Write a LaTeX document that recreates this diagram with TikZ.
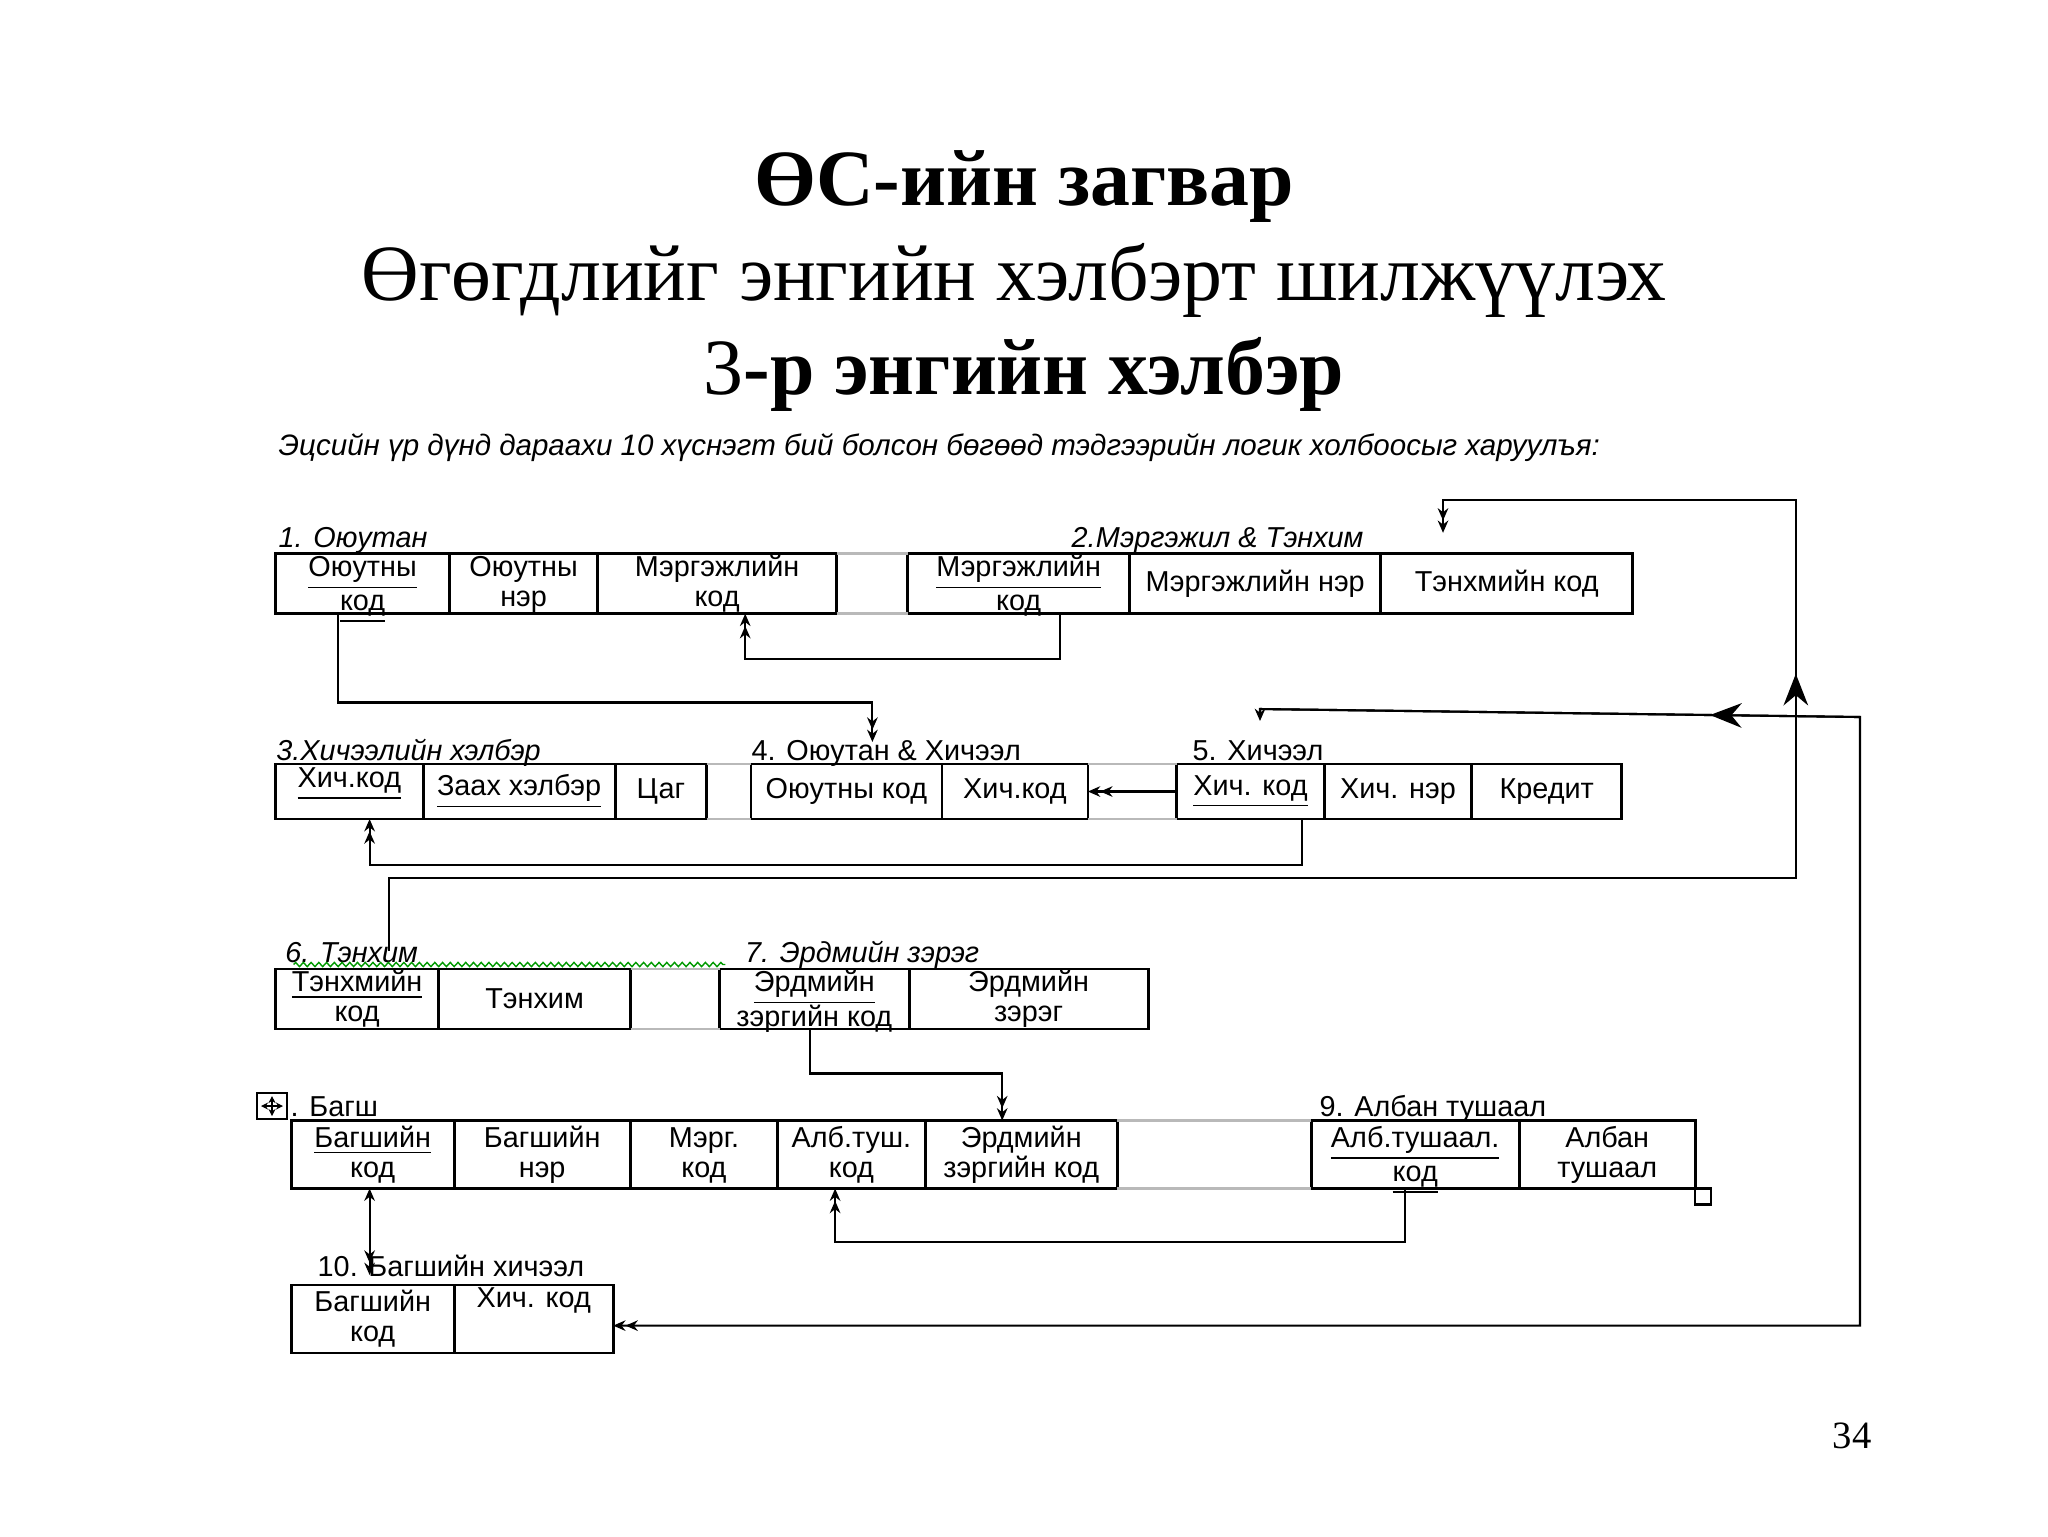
\documentclass[tikz,border=0pt]{standalone}
\usepackage{fontspec}
\setmainfont{Liberation Serif}
\newfontfamily\cellfont{Liberation Sans}
\usepackage{tikz}
\usetikzlibrary{arrows.meta,calc,decorations.markings,decorations.pathmorphing}

\newcommand{\twolines}[2]{\begin{tabular}[t]{@{}c@{}}#1\\#2\end{tabular}}

\begin{document}
\begin{tikzpicture}[
		x=0.1mm,
		y=-0.1mm,
		>={Stealth[length=3.5pt,width=3pt]},
		cell/.style={
			draw,
			line width=0.8pt,
			anchor=north west,
			outer sep=0pt,
			inner sep=0pt,
			font=\cellfont\fontsize{8.2}{8.6}\selectfont,
			minimum height=#1
		},
		cell/.default=6mm,
		twoline/.style={text height=4pt, text depth=8.2pt},
		tlabel/.style={anchor=base west, inner sep=0pt, font=\cellfont\itshape\fontsize{8.2}{9.4}\selectfont},
		tlabelup/.style={tlabel, font=\cellfont\fontsize{8.2}{9.4}\selectfont},
		link/.style={line width=0.6pt},
		gapline/.style={gray!55, line width=0.8pt},
		midtip/.style={
			postaction={decorate},
			decoration={
				markings,
				mark=at position #1 with {\arrow{Stealth[length=9pt,width=7pt]}}
			}
		}
	]
	
	\useasboundingbox (0,0) rectangle (2048,1536);
	
	% Гарчиг
	\node[anchor=base, font=\bfseries\fontsize{22.7}{26}\selectfont] (title) at (1024,205) {ӨС-ийн загвар};
	\node[anchor=base, font=\fontsize{22.7}{26}\selectfont] (subtitle) at (1014,300) {Өгөгдлийг энгийн хэлбэрт шилжүүлэх};
	\node[anchor=base, font=\fontsize{22.7}{26}\selectfont] (form) at (1024,394) {3\textbf{-р энгийн хэлбэр}};
	
	\node[tlabel, font=\cellfont\itshape\fontsize{8.4}{10}\selectfont] (intro) at (278,455)
	{Эцсийн үр дүнд дараахи 10 хүснэгт бий болсон бөгөөд тэдгээрийн логик холбоосыг харуулъя:};
	
	% 1. Оюутан
	\node[tlabel] (l1) at (278,547) {1. Оюутан};
	\node[cell, twoline, minimum width=17.4mm] (t1a) at (275.6,553.7) {\twolines{\underline{Оюутны}}{\underline{код}}};
	\node[cell, twoline, minimum width=14.8mm] (t1b) at (t1a.north east) {\twolines{Оюутны}{нэр}};
	\node[cell, twoline, minimum width=23.9mm] (t1c) at (t1b.north east) {\twolines{Мэргэжлийн}{код}};
	
	% 2. Мэргэжил & Тэнхим
	\node[tlabel] (l2) at (1071,547) {2.Мэргэжил \& Тэнхим};
	\node[cell, twoline, minimum width=22.2mm] (t2a) at (907.7,553.7) {\twolines{\underline{Мэргэжлийн}}{код}};
	\node[cell, minimum width=25.1mm] (t2b) at (t2a.north east) {Мэргэжлийн нэр};
	\node[cell, minimum width=25.2mm] (t2c) at (t2b.north east) {Тэнхмийн код};
	
	% 3. Хичээлийн хэлбэр
	\node[tlabel] (l3) at (275.6,760) {3.Хичээлийн хэлбэр};
	\node[cell=5.5mm, text height=2pt, text depth=4.3pt, minimum width=14.75mm] (t3a) at (275.6,764) {\underline{Хич.код}};
	\node[cell=5.5mm, minimum width=19.2mm] (t3b) at (t3a.north east) {\underline{Заах хэлбэр}};
	\node[cell=5.5mm, minimum width=9.15mm] (t3c) at (t3b.north east) {Цаг};
	
	% 4. Оюутан & Хичээл
	\node[tlabelup] (l4) at (751,760) {4. Оюутан \& Хичээл};
	\node[cell=5.5mm, minimum width=19.1mm] (t4a) at (750.9,764) {Оюутны код};
	\node[cell=5.5mm, minimum width=14.6mm] (t4b) at (t4a.north east) {Хич.код};
	
	% 5. Хичээл
	\node[tlabelup] (l5) at (1192,760) {5. Хичээл};
	\node[cell=5.5mm, minimum width=14.75mm] (t5a) at (1176.7,764) {\underline{Хич. код}};
	\node[cell=5.5mm, minimum width=14.75mm] (t5b) at (t5a.north east) {Хич. нэр};
	\node[cell=5.5mm, minimum width=15mm] (t5c) at (t5b.north east) {Кредит};
	
	% 6. Тэнхим
	\node[tlabel] (l6) at (284.7,962.5) {6. Тэнхим};
	\node[cell, twoline, minimum width=16.3mm] (t6a) at (275.6,969) {\twolines{\underline{Тэнхмийн}}{код}};
	\node[cell, minimum width=19.2mm] (t6b) at (t6a.north east) {Тэнхим};
	
	% 7. Эрдмийн зэрэг
	\node[tlabel] (l7) at (744.4,962.5) {7. Эрдмийн зэрэг};
	\node[cell, twoline, minimum width=18.95mm] (t7a) at (719.6,969) {\twolines{\underline{Эрдмийн}}{зэргийн код}};
	\node[cell, twoline, minimum width=23.9mm] (t7b) at (t7a.north east) {\twolines{Эрдмийн}{зэрэг}};
	
	% 8. Багш
	\node[tlabelup] (l8) at (290,1116.6) {. Багш};
	\node[cell=6.8mm, twoline, minimum width=16.3mm] (t8a) at (291.2,1120.5) {\twolines{\underline{Багшийн}}{\underline{код}}};
	\node[cell=6.8mm, twoline, minimum width=17.6mm] (t8b) at (t8a.north east) {\twolines{Багшийн}{нэр}};
	\node[cell=6.8mm, twoline, minimum width=14.75mm] (t8c) at (t8b.north east) {\twolines{Мэрг.}{код}};
	\node[cell=6.8mm, twoline, minimum width=14.75mm] (t8d) at (t8c.north east) {\twolines{Алб.туш.}{код}};
	\node[cell=6.8mm, twoline, minimum width=19.2mm] (t8e) at (t8d.north east) {\twolines{Эрдмийн}{зэргийн код}};
	
	% зөөх бариул
	\draw[line width=0.5pt] (257,1093) rectangle (287,1119);
	\draw[line width=0.5pt, <->, >={Stealth[length=2pt,width=2pt]}] (261,1106) -- (283,1106);
	\draw[line width=0.5pt, <->, >={Stealth[length=2pt,width=2pt]}] (272,1096) -- (272,1116);
	
	% 9. Албан тушаал
	\node[tlabelup] (l9) at (1319,1116.6) {9. Албан тушаал};
	\node[cell=6.8mm, twoline, minimum width=20.8mm] (t9a) at (1311.2,1120.5) {\twolines{\underline{Алб.тушаал.}}{\underline{код}}};
	\node[cell=6.8mm, twoline, minimum width=17.6mm] (t9b) at (t9a.north east) {\twolines{Албан}{тушаал}};
	\draw[line width=0.6pt] (t9b.south east) rectangle ++(16,16);
	
	% 10. Багшийн хичээл
	\node[tlabelup] (l10) at (317,1276) {10. Багшийн хичээл};
	\node[cell=6.8mm, twoline, minimum width=16.3mm] (t10a) at (291.2,1285) {\twolines{Багшийн}{код}};
	\node[cell=6.8mm, text height=1pt, text depth=7.8pt, minimum width=15.9mm] (t10b) at (t10a.north east) {Хич. код};
	
	% хүснэгт хоорондын саарал шугам
	\draw[gapline] (t1c.north east) -- (t2a.north west) (t1c.south east) -- (t2a.south west);
	\draw[gapline] (t3c.north east) -- (t4a.north west) (t3c.south east) -- (t4a.south west);
	\draw[gapline] (t4b.north east) -- (t5a.north west) (t4b.south east) -- (t5a.south west);
	\draw[gapline] (t6b.north east) -- (t7a.north west) (t6b.south east) -- (t7a.south west);
	\draw[gapline] (t8e.north east) -- (t9a.north west) (t8e.south east) -- (t9a.south west);
	
	\draw[green!60!black, line width=0.4pt, decorate, decoration={zigzag, amplitude=0.6pt, segment length=2.2pt}]
	($(l6.base west)+(9,2)$) -- ($(l7.base west)+(-19,2)$);
	
	% холбоосууд
	\coordinate (aA) at (872.4,742);
	\draw[link,->>] ($(t1a.south west)+(62.4,0)$) -- ++(0,88.8) -| (aA);
	
	\draw[link,->>] ($(t2a.south west)+(152.3,0)$) -- ++(0,45.7) -| ($(t1c.south west)+(147.6,0)$);
	
	\coordinate (cR) at (1795.8,877.6);
	\coordinate (cTop) at (1795.8,500.2);
	\coordinate (cEnd) at (1443,532.8);
	\draw[link,->>] ($(t6a.north west)+(113.6,-18)$) |- (cR) -- (cTop) -| (cEnd);
	\draw[link,midtip=0.54] (cR) -- (cTop);
	
	\coordinate (dBR) at (1860,1325.6);
	\coordinate (dTR) at (1860,717);
	\coordinate (dTL) at (1260,709);
	\coordinate (dTip) at (1260,721);
	\draw[link,<<->] ($(t10b.east)+(0,6.6)$) -- (dBR) -- (dTR) -- (dTL) -- (dTip);
	\draw[link,midtip=0.25] (dTR) -- (dTL);
	
	\draw[link,->>] ($(t5a.south west)+(125.3,0)$) -- ++(0,45.7) -| ($(t3a.south west)+(94,0)$);
	\draw[link,->>] (t5a.west) -- (t4b.east);
	
	\draw[link,->>] ($(t7a.south west)+(90.1,0)$) -- ++(0,44.5) -| ($(t8e.north west)+(77,0)$);
	\draw[link,->>] ($(t9a.south west)+(94.1,0)$) -- ++(0,53.5) -| ($(t8d.south west)+(57.4,0)$);
	\draw[link,<->>] ($(t8a.south west)+(78.4,0)$) -- ($(t10a.north west)+(78.4,-10)$);
	
	% хуудасны дугаар
	\node[anchor=base, font=\fontsize{11}{13}\selectfont] (pageno) at (1852,1448) {34};
	
\end{tikzpicture}
\end{document}
